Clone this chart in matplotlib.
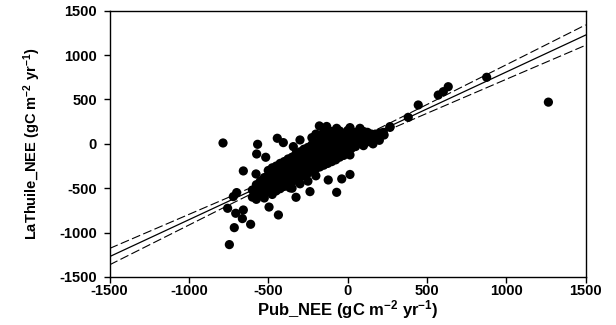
import numpy as np
import matplotlib.pyplot as plt

plt.rcParams['font.family'] = ['Liberation Sans', 'DejaVu Sans']
plt.rcParams['font.weight'] = 'bold'
plt.rcParams['axes.unicode_minus'] = False
plt.rcParams['mathtext.fontset'] = 'custom'
plt.rcParams['mathtext.rm'] = 'Liberation Sans:bold'
plt.rcParams['mathtext.default'] = 'rm'

# scattered / edge points (Pub_NEE, LaThuile_NEE)
edge_x = [-785, -567, -443, -405, -573, -516, -342, -657, -577, -699, -720, -756,
          -705, -657, -663, -714, -611, -745, -495, -436, -325, -363, -237, -69,
          -122, -37, 15, 15, -178, -132, -69, 15, 78, 267, 173, 204, 267, 382,
          445, 571, 603, 634, 876, 1265, -300, 180, 200, 230, 150, 120, 160, 100]
edge_y = [10, -5, 63, 14, -114, -151, -31, -305, -339, -549, -594, -726,
          -782, -745, -842, -944, -906, -1135, -712, -801, -602, -495, -538, -546,
          -407, -395, -345, -125, 202, 196, 175, 183, 175, 194, 100, 119, 186, 299,
          438, 550, 588, 644, 750, 470, 44, 80, 40, 100, 60, 20, 0, -20]

# dense core of the cloud (estimated where markers overlap)
core = {
    -600: [-520, -600],
    -575: [-460, -545, -625],
    -550: [-420, -500, -580],
    -525: [-380, -460, -540, -610],
    -500: [-300, -390, -460, -540],
    -475: [-270, -350, -430, -500, -570],
    -450: [-250, -320, -390, -460, -530],
    -425: [-220, -300, -370, -440, -505],
    -400: [-200, -270, -345, -410, -480],
    -375: [-170, -250, -320, -390, -455],
    -350: [-150, -220, -290, -360, -430, -500],
    -325: [-110, -190, -265, -330, -400],
    -300: [-90, -170, -240, -310, -380, -450],
    -275: [-60, -140, -210, -280, -350],
    -250: [-40, -120, -190, -260, -330, -420],
    -225: [-10, -90, -160, -230, -300, 70],
    -200: [10, -70, -140, -210, -280, 110, -360],
    -175: [30, -50, -120, -190, -260, 100],
    -150: [50, -30, -100, -170, -240, 130],
    -125: [60, -10, -80, -150, -220],
    -100: [80, 10, -60, -130, -200, 140],
    -75: [90, 20, -40, -110, -180],
    -50: [100, 30, -30, -90, -150, 145],
    -25: [110, 40, -20, -80, -130],
    0: [120, 60, 0, -60, 150],
    25: [120, 60, 10, -50],
    50: [130, 70, 20, -30],
    75: [140, 80, 30],
    100: [140, 90, 40],
    125: [130, 80, 30],
    150: [110, 70],
    175: [110, 50],
    200: [120, 75],
    225: [130],
}

# regression line and 95% band
fit_x = [-1500, 1500]
fit_y = [-1271, 1226]
band_center = -170
band_min = 20
band_slope = 0.0677

xticks = [-1500, -1000, -500, 0, 500, 1000, 1500]
yticks = [-1500, -1000, -500, 0, 500, 1000, 1500]

px = list(edge_x)
py = list(edge_y)
for cx, ys in core.items():
    for cy in ys:
        px.append(cx)
        py.append(cy)

fig = plt.figure(figsize=(6.16, 3.25), dpi=100)
ax = fig.add_axes([0.1778, 0.1477, 0.9508 - 0.1778, 0.967 - 0.1477])

ax.scatter(px, py, s=44, c='black', edgecolors='none', zorder=3)

xl = np.linspace(fit_x[0], fit_x[1], 200)
slope = (fit_y[1] - fit_y[0]) / (fit_x[1] - fit_x[0])
yl = fit_y[0] + slope * (xl - fit_x[0])
half = np.sqrt(band_min ** 2 + (band_slope * (xl - band_center)) ** 2)
ax.plot(xl, yl, color='black', lw=0.9, zorder=2)
ax.plot(xl, yl + half, color='black', lw=0.8, dashes=(8, 3), zorder=2)
ax.plot(xl, yl - half, color='black', lw=0.8, dashes=(8, 3), zorder=2)

ax.set_xlim(-1500, 1500)
ax.set_ylim(-1500, 1500)
ax.set_xticks(xticks)
ax.set_yticks(yticks)
ax.tick_params(direction='out', length=4, width=1, labelsize=10.5)
ax.tick_params(axis='x', pad=1)
ax.tick_params(axis='y', pad=5)
for s in ax.spines.values():
    s.set_linewidth(1)

ax.set_xlabel(r'Pub_NEE (gC m$^{-2}$ yr$^{-1}$)', fontsize=12, fontweight='bold', labelpad=0)
ax.set_ylabel(r'LaThuile_NEE (gC m$^{-2}$ yr$^{-1}$)', fontsize=10.5, fontweight='bold', labelpad=12)

fig.savefig('out.png', dpi=100)
